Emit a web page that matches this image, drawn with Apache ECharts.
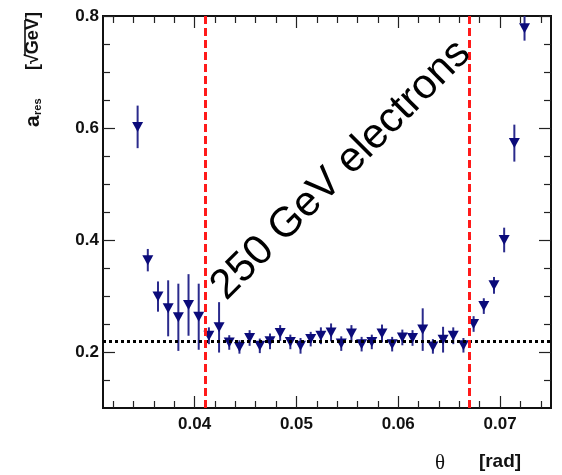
<!DOCTYPE html>
<html>
<head>
<meta charset="utf-8">
<script src="https://cdn.jsdelivr.net/npm/echarts@6/dist/echarts.min.js"></script>
<style>
html,body{margin:0;padding:0;background:#fff;}
#chart{width:562px;height:475px;}
</style>
</head>
<body>
<div id="chart"></div>
<script>
// ---- data ----
const thetaValues = [0.0344, 0.0354, 0.0364, 0.0374, 0.0384, 0.0394, 0.0404, 0.0414, 0.0424, 0.0434,
  0.0444, 0.0454, 0.0464, 0.0474, 0.0484, 0.0494, 0.0504, 0.0514, 0.0524, 0.0534,
  0.0544, 0.0554, 0.0564, 0.0574, 0.0584, 0.0594, 0.0604, 0.0614, 0.0624, 0.0634,
  0.0644, 0.0654, 0.0664, 0.0674, 0.0684, 0.0694, 0.0704, 0.0714, 0.0724];
const aRes = [0.602, 0.364, 0.299, 0.278, 0.262, 0.284, 0.263, 0.229, 0.244, 0.217,
  0.209, 0.225, 0.211, 0.219, 0.234, 0.218, 0.211, 0.223, 0.229, 0.235,
  0.215, 0.233, 0.214, 0.218, 0.233, 0.214, 0.226, 0.225, 0.240, 0.210,
  0.222, 0.229, 0.212, 0.250, 0.282, 0.319, 0.400, 0.573, 0.778];
const aResErr = [0.038, 0.020, 0.027, 0.050, 0.060, 0.055, 0.059, 0.015, 0.045, 0.013,
  0.012, 0.014, 0.013, 0.014, 0.014, 0.013, 0.014, 0.013, 0.015, 0.016,
  0.013, 0.015, 0.013, 0.013, 0.016, 0.013, 0.014, 0.014, 0.038, 0.013,
  0.023, 0.015, 0.013, 0.014, 0.014, 0.015, 0.022, 0.033, 0.022];
const cutLines = [0.041, 0.067];
const fitLevel = 0.22;
const xMajorTicks = [0.04, 0.05, 0.06, 0.07];
const xMinorTicks = [0.032, 0.034, 0.036, 0.038, 0.042, 0.044, 0.046, 0.048,
  0.052, 0.054, 0.056, 0.058, 0.062, 0.064, 0.066, 0.068, 0.072, 0.074];
const yMajorTicks = [0.2, 0.4, 0.6, 0.8];
const yMinorTicks = [0.15, 0.25, 0.3, 0.35, 0.45, 0.5, 0.55, 0.65, 0.7, 0.75];
const annotation = '250 GeV electrons';

// ---- chart ----
const chart = echarts.init(document.getElementById('chart'), null, {renderer: 'canvas'});
const points = thetaValues.map((x, i) => [x, aRes[i], aResErr[i]]);
const navy = '#0b0b7a';
const X = {min: 0.031, max: 0.075};
const Y = {min: 0.1, max: 0.8};

function xAx(pos, ticks, len, labels) {
  return {
    type: 'value', position: pos, min: X.min, max: X.max, gridIndex: 0,
    axisLine: {show: false},
    splitLine: {show: false},
    axisTick: {show: true, inside: true, length: len, customValues: ticks, lineStyle: {color: '#222', width: 1.2}},
    axisLabel: labels ? {show: true, customValues: ticks, formatter: v => v.toFixed(2), color: '#111',
      fontFamily: 'Liberation Sans', fontWeight: 'bold', fontSize: 17, margin: 8} : {show: false}
  };
}
function yAx(pos, ticks, len, labels) {
  return {
    type: 'value', position: pos, min: Y.min, max: Y.max, gridIndex: 0,
    axisLine: {show: false},
    splitLine: {show: false},
    axisTick: {show: true, inside: true, length: len, customValues: ticks, lineStyle: {color: '#222', width: 1.2}},
    axisLabel: labels ? {show: true, customValues: ticks, formatter: v => v.toFixed(1), color: '#111',
      fontFamily: 'Liberation Sans', fontWeight: 'bold', fontSize: 17, margin: 4} : {show: false}
  };
}

const option = {
  backgroundColor: '#ffffff',
  animation: false,
  grid: {left: 103, right: 11, top: 16, bottom: 67, show: true, borderColor: '#111', borderWidth: 2, backgroundColor: 'transparent'},
  xAxis: [
    xAx('bottom', xMajorTicks, 12, true),
    xAx('bottom', xMinorTicks, 7, false),
    xAx('top', xMajorTicks, 12, false),
    xAx('top', xMinorTicks, 7, false)
  ],
  yAxis: [
    yAx('left', yMajorTicks, 12, true),
    yAx('left', yMinorTicks, 7, false),
    yAx('right', yMajorTicks, 12, false),
    yAx('right', yMinorTicks, 7, false)
  ],
  series: [
    {
      type: 'scatter', xAxisIndex: 0, yAxisIndex: 0, data: [], z: 1, silent: true,
      markLine: {
        silent: true, symbol: 'none', label: {show: false}, animation: false, precision: 5,
        data: [
          {yAxis: fitLevel, lineStyle: {color: '#000', width: 3, type: [3, 3]}},
          {xAxis: cutLines[0], lineStyle: {color: '#ff1a1a', width: 3, type: [8, 4]}},
          {xAxis: cutLines[1], lineStyle: {color: '#ff1a1a', width: 3, type: [8, 4]}}
        ]
      }
    },
    {
      type: 'custom', xAxisIndex: 0, yAxisIndex: 0, z: 3, silent: true,
      data: points,
      renderItem: function (params, api) {
        const x = api.value(0), y = api.value(1), e = api.value(2);
        const p1 = api.coord([x, y + e]);
        const p2 = api.coord([x, y - e]);
        return {type: 'line', shape: {x1: p1[0], y1: p1[1], x2: p2[0], y2: p2[1]},
          style: {stroke: '#2a2a8c', lineWidth: 2}};
      }
    },
    {
      type: 'scatter', xAxisIndex: 0, yAxisIndex: 0, z: 4, silent: true,
      data: points.map(p => [p[0], p[1]]),
      symbol: 'triangle', symbolRotate: 180, symbolSize: [11, 10],
      itemStyle: {color: navy, opacity: 1}
    }
  ],
  graphic: [
    {
      type: 'text', x: 341, y: 170, rotation: Math.PI / 4, z: 100,
      style: {text: annotation, fontFamily: 'Liberation Sans', fontSize: 42, fill: '#000',
        align: 'center', verticalAlign: 'middle'}
    },
    {
      type: 'group', x: 33, y: 127, rotation: Math.PI / 2, z: 100,
      children: [
        {type: 'text', x: 0, y: 0, style: {text: 'a', fontFamily: 'Liberation Sans', fontWeight: 'bold', fontSize: 21, fill: '#111', align: 'left', verticalAlign: 'middle'}},
        {type: 'text', x: 12, y: 5, style: {text: 'res', fontFamily: 'Liberation Sans', fontWeight: 'bold', fontSize: 11, fill: '#111', align: 'left', verticalAlign: 'middle'}},
        {type: 'text', x: 57, y: 0, style: {text: '[\u221AGeV]', fontFamily: 'Liberation Sans', fontWeight: 'bold', fontSize: 18, fill: '#111', align: 'left', verticalAlign: 'middle'}},
        {type: 'line', shape: {x1: 71, y1: -8, x2: 107, y2: -8}, style: {stroke: '#111', lineWidth: 1.6}}
      ]
    },
    {
      type: 'text', x: 440, y: 463, z: 100,
      style: {text: '\u03B8', fontFamily: 'Liberation Serif', fontSize: 21, fill: '#111', align: 'center', verticalAlign: 'middle'}
    },
    {
      type: 'text', x: 500, y: 462, z: 100,
      style: {text: '[rad]', fontFamily: 'Liberation Sans', fontWeight: 'bold', fontSize: 19, fill: '#111', align: 'center', verticalAlign: 'middle'}
    }
  ]
};
chart.setOption(option);
</script>
</body>
</html>
